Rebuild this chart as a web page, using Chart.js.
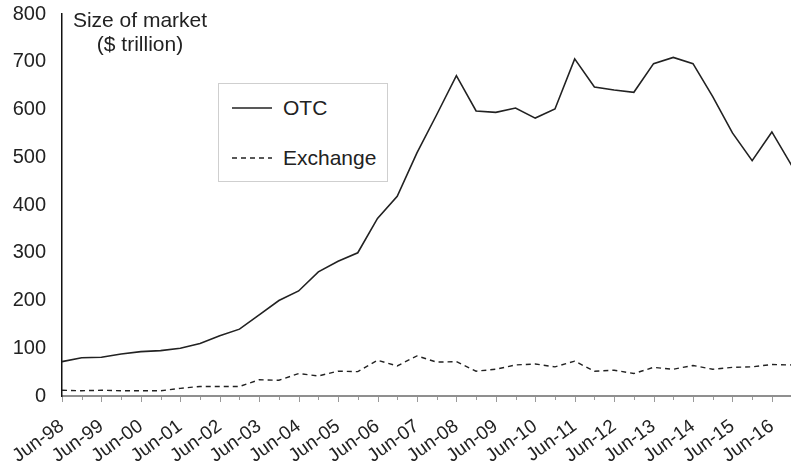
<!DOCTYPE html>
<html>
<head>
<meta charset="utf-8">
<title>Size of market</title>
<script src="https://cdn.jsdelivr.net/npm/chart.js@4.4.1/dist/chart.umd.min.js"></script>
<style>
  html, body { margin: 0; padding: 0; background: #fff; overflow: hidden; }
  #wrap { position: relative; width: 805px; height: 461px; }
  #wrap canvas { position: absolute; left: 0; top: 0; }
  .txt { position: absolute; font-family: "Liberation Sans", Arial, sans-serif; font-size: 21px; line-height: 24px; color: #222; white-space: nowrap; }
  #ytitle { left: 40px; top: 8px; width: 200px; text-align: center; }
  #legend { position: absolute; left: 218px; top: 83px; width: 168px; height: 97px; border: 1px solid #cfcfcf; background: #fff; }
  #legend svg { position: absolute; }
</style>
</head>
<body>
<div id="wrap">
  <canvas id="marketChart" width="805" height="461"></canvas>
  <div id="ytitle" class="txt">Size of market<br>($ trillion)</div>
  <div id="legend"></div>
</div>
<script>
// half-yearly observations, Jun-98 .. Dec-16
const categories = [
  'Jun-98', 'Dec-98', 'Jun-99', 'Dec-99', 'Jun-00', 'Dec-00', 'Jun-01', 'Dec-01',
  'Jun-02', 'Dec-02', 'Jun-03', 'Dec-03', 'Jun-04', 'Dec-04', 'Jun-05', 'Dec-05',
  'Jun-06', 'Dec-06', 'Jun-07', 'Dec-07', 'Jun-08', 'Dec-08', 'Jun-09', 'Dec-09',
  'Jun-10', 'Dec-10', 'Jun-11', 'Dec-11', 'Jun-12', 'Dec-12', 'Jun-13', 'Dec-13',
  'Jun-14', 'Dec-14', 'Jun-15', 'Dec-15', 'Jun-16', 'Dec-16'
];

// $ trillion
const otcValues = [
  72, 80, 81, 88, 93, 95, 100, 110, 126, 140, 170, 200, 220, 260, 282, 300,
  372, 418, 509, 589, 671, 597, 594, 603, 582, 601, 706, 647, 641, 636, 696, 709,
  696, 627, 551, 493, 553, 483
];

const exchangeValues = [
  12, 11, 12, 11, 11, 11, 16, 20, 20, 20, 34, 33, 47, 42, 52, 51,
  75, 63, 84, 71, 72, 52, 56, 65, 67, 61, 73, 52, 54, 47, 60, 56,
  64, 56, 60, 61, 66, 65
];

const yTicks = [0, 100, 200, 300, 400, 500, 600, 700, 800];

const FONT = '"Liberation Sans", Arial, sans-serif';

// short gray tick marks under the x axis: long on Jun, short on Dec
const tickMarks = {
  id: 'tickMarks',
  afterDraw(chart) {
    const xs = chart.scales.x;
    const ctx = chart.ctx;
    const y0 = chart.chartArea.bottom + 1;
    ctx.save();
    ctx.strokeStyle = '#9a9a9a';
    ctx.lineWidth = 1;
    xs.ticks.forEach((t, i) => {
      const x = Math.round(xs.getPixelForTick(i)) + 0.5;
      ctx.beginPath();
      ctx.moveTo(x, y0);
      ctx.lineTo(x, y0 + (i % 2 === 0 ? 5 : 3));
      ctx.stroke();
    });
    ctx.restore();
  }
};

const chart = new Chart(document.getElementById('marketChart'), {
  type: 'line',
  data: {
    labels: categories,
    datasets: [
      { label: 'OTC', data: otcValues, borderColor: '#222', borderWidth: 1.6, pointRadius: 0, tension: 0, fill: false },
      { label: 'Exchange', data: exchangeValues, borderColor: '#222', borderWidth: 1.4, borderDash: [5, 4], pointRadius: 0, tension: 0, fill: false }
    ]
  },
  options: {
    responsive: false,
    animation: false,
    layout: { padding: { top: 14, right: 0, bottom: 0, left: 0 } },
    plugins: { legend: { display: false }, tooltip: { enabled: false } },
    scales: {
      x: {
        offset: false,
        // tickLength only spaces the labels away from the axis (grid itself hidden)
        grid: { display: false, drawTicks: true, tickLength: 19 },
        border: { display: true, color: '#8f8f8f', width: 2 },
        ticks: {
          autoSkip: false, minRotation: 36, maxRotation: 36, padding: 0, labelOffset: 0,
          color: '#222', font: { family: FONT, size: 19 },
          callback: (v, i) => (i % 2 === 0 ? categories[i] : '')
        },
        afterFit: s => { s.height = 65; }
      },
      y: {
        min: 0, max: 800,
        grid: { display: false, drawTicks: true, tickLength: 16 },
        border: { display: true, color: '#111', width: 1.5 },
        ticks: { padding: 0, color: '#222', font: { family: FONT, size: 20 } },
        afterBuildTicks: s => { s.ticks = yTicks.map(v => ({ value: v })); },
        afterFit: s => { s.width = 62; }
      }
    }
  },
  plugins: [tickMarks]
});

// legend box built from the datasets
const legend = document.getElementById('legend');
chart.data.datasets.forEach((ds, i) => {
  const lineY = 24 + i * 49.5;
  const dash = ds.borderDash ? ds.borderDash.join(',') : 'none';
  legend.insertAdjacentHTML('beforeend',
    `<svg width="40" height="6" style="left:13px; top:${lineY - 3}px">
       <line x1="0" y1="3" x2="40" y2="3" stroke="${ds.borderColor}" stroke-width="1.4" stroke-dasharray="${dash}"/>
     </svg>
     <div class="txt" style="left:64px; top:${lineY - 12}px">${ds.label}</div>`);
});
</script>
</body>
</html>
